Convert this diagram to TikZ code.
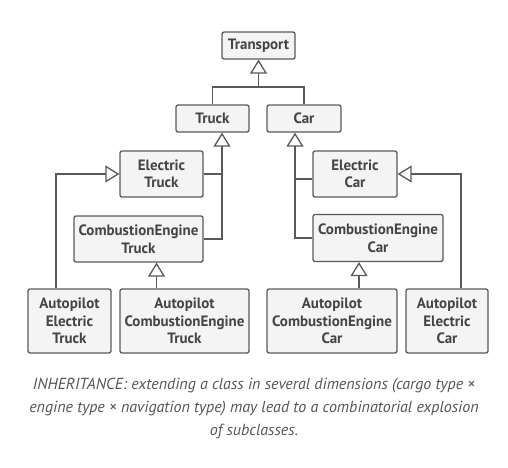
\documentclass[tikz,border=0pt]{standalone}
\usepackage{fontspec}
\setmainfont{PT Sans}
\usetikzlibrary{arrows.meta}
\definecolor{boxfill}{HTML}{F4F4F4}
\definecolor{boxline}{HTML}{595959}
\definecolor{boxtext}{HTML}{444444}
\definecolor{captext}{HTML}{555555}
\begin{document}
\begin{tikzpicture}[x=1pt,y=-1pt,
	cls/.style={draw=boxline,fill=boxfill,rounded corners=2pt,line width=1.3pt,text=boxtext,
		font=\fontsize{15}{17.5}\selectfont\bfseries,align=center,inner sep=0pt},
	inh/.style={draw=boxline,line width=1.3pt,-{Triangle[open,length=14pt,width=17pt]}},
	lnk/.style={draw=boxline,line width=1.3pt}]
	\useasboundingbox (0,0) rectangle (508,467);
	% classes
	\node[cls,minimum width=73pt,minimum height=27pt] (transport) at (258.5,45.5) {Transport};
	\node[cls,minimum width=73pt,minimum height=27pt] (truck) at (212.5,118.5) {Truck};
	\node[cls,minimum width=74pt,minimum height=27pt] (car) at (304,118.5) {Car};
	\node[cls,minimum width=83pt,minimum height=46pt] (eltruck) at (161.5,174) {Electric\\Truck};
	\node[cls,minimum width=129pt,minimum height=46pt] (cetruck) at (138.5,239) {CombustionEngine\\Truck};
	\node[cls,minimum width=84pt,minimum height=46pt] (elcar) at (355,174) {Electric\\Car};
	\node[cls,minimum width=130pt,minimum height=47pt] (cecar) at (378,238) {CombustionEngine\\Car};
	\node[cls,minimum width=83pt,minimum height=64pt] (apeltruck) at (69.5,321) {Autopilot\\Electric\\Truck};
	\node[cls,minimum width=129pt,minimum height=64pt] (apcetruck) at (184.5,321) {Autopilot\\CombustionEngine\\Truck};
	\node[cls,minimum width=130pt,minimum height=64pt] (apcecar) at (332,321) {Autopilot\\CombustionEngine\\Car};
	\node[cls,minimum width=82pt,minimum height=64pt] (apelcar) at (447,321) {Autopilot\\Electric\\Car};
	% inheritance
	\coordinate (top) at (258.5,87);
	\draw[inh] (truck.north) |- (top) -- (transport.south);
	\draw[lnk] (car.north) |- (top);
	\draw[inh] (cetruck.east) -| ([xshift=9.5pt]truck.south);
	\draw[lnk] (eltruck.east) -- +(19,0);
	\draw[inh] (cecar.west) -| ([xshift=-9pt]car.south);
	\draw[lnk] ([yshift=-5pt]elcar.west) -- +(-18,0);
	\draw[inh] ([xshift=-13.5pt]apeltruck.north) |- (eltruck.west);
	\draw[inh] ([xshift=-28pt]apcetruck.north) -- ([xshift=-28pt]apcetruck.north |- cetruck.south);
	\draw[inh] ([xshift=27pt]apcecar.north) -- ([xshift=27pt]apcecar.north |- cecar.south);
	\draw[inh] ([xshift=14pt]apelcar.north) |- (elcar.east);
	% caption
	\node[text=captext,font=\fontsize{16}{23}\selectfont\itshape,align=center] (cap) at (254,408)
		{INHERITANCE: extending a class in several dimensions (cargo type ×\\
		engine type × navigation type) may lead to a combinatorial explosion\\
		of subclasses.};
\end{tikzpicture}
\end{document}
